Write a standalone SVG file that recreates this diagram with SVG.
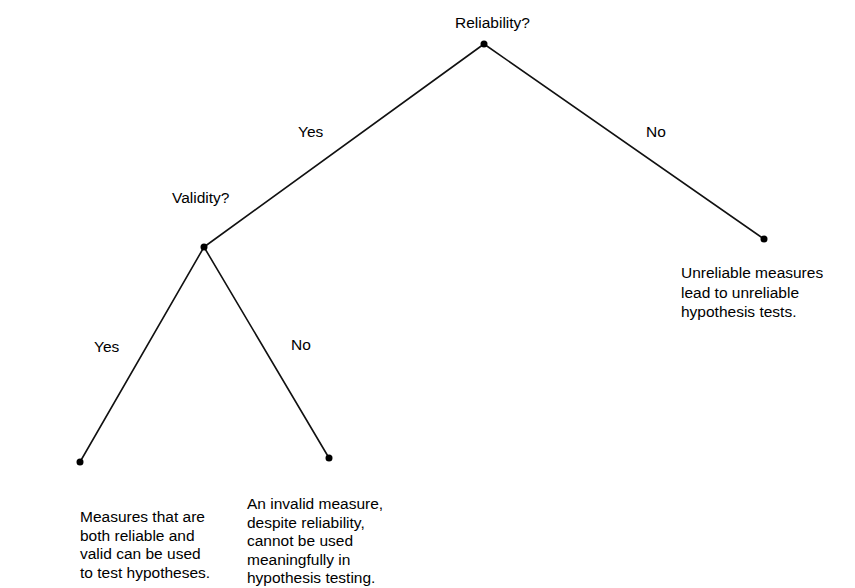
<svg xmlns="http://www.w3.org/2000/svg" width="855" height="588" viewBox="0 0 855 588">
<style>
text{font-family:"Liberation Sans",Arial,sans-serif;font-size:15.5px;fill:#000}
.e{stroke:#111;stroke-width:1.6;fill:none;stroke-linecap:round}
.d{fill:#000}
</style>
<rect width="855" height="588" fill="#fff"/>
<g id="connectors">
<line class="e" x1="484" y1="44" x2="204" y2="247"/>
<line class="e" x1="484" y1="44" x2="764" y2="239"/>
<line class="e" x1="204" y1="247" x2="80" y2="462"/>
<line class="e" x1="204" y1="247" x2="329" y2="458"/>
<text x="298" y="137">Yes</text>
<text x="646" y="137">No</text>
<text x="94" y="352">Yes</text>
<text x="291" y="350">No</text>
</g>
<g id="reliability">
<circle class="d" cx="484" cy="44" r="3.5"/>
<text x="455" y="28">Reliability?</text>
</g>
<g id="validity">
<circle class="d" cx="204" cy="247" r="3.5"/>
<text x="172" y="203">Validity?</text>
</g>
<g id="unreliable">
<circle class="d" cx="764" cy="239" r="3.5"/>
<text x="681" y="278">Unreliable measures</text>
<text x="681" y="297.5">lead to unreliable</text>
<text x="681" y="317">hypothesis tests.</text>
</g>
<g id="valid">
<circle class="d" cx="80" cy="462" r="3.5"/>
<text x="80" y="522">Measures that are</text>
<text x="80" y="540.5">both reliable and</text>
<text x="80" y="559">valid can be used</text>
<text x="80" y="577.5">to test hypotheses.</text>
</g>
<g id="invalid">
<circle class="d" cx="329" cy="458" r="3.5"/>
<text x="247" y="509">An invalid measure,</text>
<text x="247" y="527.5">despite reliability,</text>
<text x="247" y="546">cannot be used</text>
<text x="247" y="564.5">meaningfully in</text>
<text x="247" y="583">hypothesis testing.</text>
</g>
</svg>
